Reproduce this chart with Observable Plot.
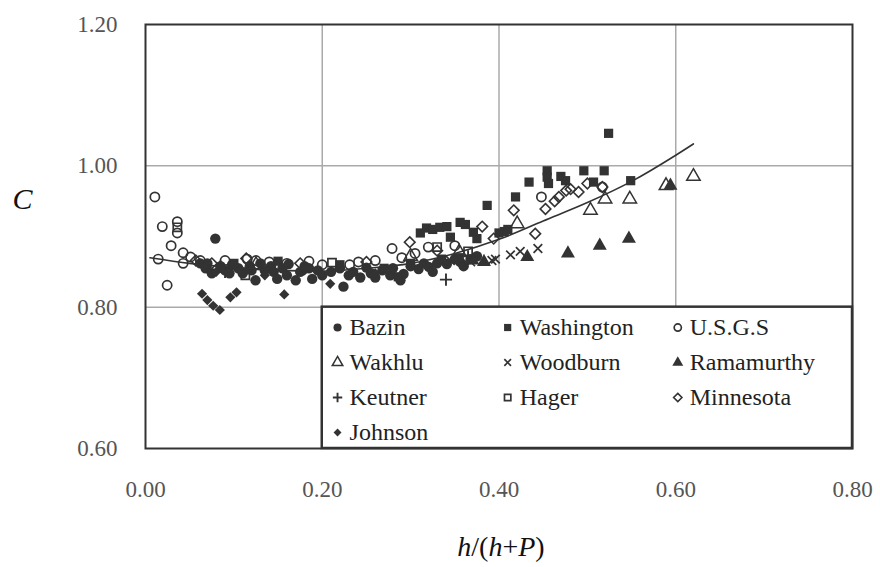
<!DOCTYPE html>
<html><head><meta charset="utf-8">
<script src="https://cdn.jsdelivr.net/npm/d3@7"></script>
<script src="https://cdn.jsdelivr.net/npm/@observablehq/plot@0.6"></script>
<style>
body{margin:0;background:#fff;}
#wrap{position:relative;width:880px;height:567px;overflow:hidden;}
#wrap svg text{font-family:"Liberation Serif","DejaVu Serif",serif;}
#xlabel{position:absolute;left:501px;top:533px;transform:translateX(-50%);font-family:"Liberation Serif","DejaVu Serif",serif;font-size:28px;line-height:1;color:#111;white-space:nowrap;}
#xlabel i{font-style:italic;}
</style></head><body>
<div id="wrap"><div id="xlabel"><i>h</i>/(<i>h</i>+<i>P</i>)</div></div>
<script>
// ---- tick values ----
const xTicks = [0.00, 0.20, 0.40, 0.60, 0.80];
const yTicks = [0.60, 0.80, 1.00, 1.20];

// ---- fitted curve ----
const curveX = [0.005, 0.05, 0.10, 0.15, 0.20, 0.25, 0.30, 0.35, 0.40, 0.45, 0.50, 0.55, 0.60, 0.62];
const curveY = [0.870, 0.862, 0.856, 0.852, 0.851, 0.855, 0.862, 0.876, 0.896, 0.922, 0.948, 0.978, 1.015, 1.031];

// ---- data series ----
const bazin = [[0.062,0.862],[0.068,0.855],[0.07,0.862],[0.075,0.848],[0.079,0.897],[0.085,0.858],[0.09,0.852],[0.095,0.848],[0.098,0.860],[0.105,0.855],[0.11,0.848],[0.118,0.858],[0.12,0.852],[0.1245,0.838],[0.13,0.862],[0.135,0.852],[0.142,0.858],[0.145,0.850],[0.149,0.840],[0.155,0.855],[0.16,0.845],[0.162,0.861],[0.17,0.838],[0.175,0.85],[0.18,0.858],[0.185,0.855],[0.1886,0.84],[0.195,0.852],[0.20,0.845],[0.21,0.850],[0.22,0.855],[0.224,0.829],[0.23,0.845],[0.235,0.85],[0.243,0.842],[0.25,0.856],[0.255,0.848],[0.26,0.842],[0.268,0.852],[0.277,0.845],[0.28,0.855],[0.2885,0.838],[0.292,0.847],[0.30,0.858],[0.309,0.854],[0.315,0.862],[0.3206,0.857],[0.325,0.850],[0.33,0.862],[0.341,0.861],[0.35,0.868],[0.356,0.864],[0.36,0.858],[0.3678,0.868],[0.375,0.872]];
const washington = [[0.10,0.862],[0.15,0.865],[0.22,0.860],[0.27,0.855],[0.286,0.843],[0.30,0.862],[0.311,0.905],[0.318,0.912],[0.325,0.910],[0.333,0.913],[0.335,0.868],[0.341,0.914],[0.345,0.899],[0.355,0.870],[0.356,0.920],[0.362,0.917],[0.371,0.906],[0.375,0.897],[0.3866,0.944],[0.40,0.905],[0.406,0.907],[0.41,0.910],[0.4187,0.956],[0.434,0.977],[0.4545,0.993],[0.4545,0.984],[0.456,0.975],[0.47,0.985],[0.4753,0.979],[0.496,0.993],[0.507,0.977],[0.519,0.993],[0.524,1.046],[0.549,0.979]];
const usgs = [[0.0106,0.956],[0.019,0.914],[0.036,0.921],[0.036,0.905],[0.029,0.887],[0.0144,0.868],[0.0245,0.831],[0.0426,0.877],[0.0426,0.862],[0.051,0.871],[0.062,0.866],[0.09,0.866],[0.115,0.868],[0.125,0.866],[0.14,0.864],[0.16,0.862],[0.185,0.865],[0.20,0.860],[0.231,0.86],[0.241,0.864],[0.26,0.866],[0.279,0.883],[0.29,0.870],[0.305,0.876],[0.32,0.885],[0.35,0.887],[0.448,0.956],[0.517,0.970]];
const wakhlu = [[0.085,0.855],[0.125,0.860],[0.30,0.872],[0.355,0.878],[0.4206,0.918],[0.5035,0.937],[0.52,0.953],[0.548,0.953],[0.589,0.972],[0.62,0.985]];
const woodburn = [[0.345,0.866],[0.36,0.862],[0.368,0.864],[0.392,0.866],[0.396,0.868],[0.413,0.874],[0.424,0.879],[0.444,0.883]];
const ramamurthy = [[0.37,0.866],[0.383,0.864],[0.432,0.871],[0.478,0.876],[0.514,0.887],[0.547,0.897],[0.594,0.972]];
const keutner = [[0.068,0.858],[0.09,0.850],[0.115,0.855],[0.34,0.839],[0.365,0.872]];
const hager = [[0.036,0.913],[0.113,0.845],[0.211,0.863],[0.33,0.885],[0.365,0.879]];
const minnesota = [[0.057,0.866],[0.075,0.862],[0.114,0.869],[0.175,0.862],[0.25,0.864],[0.299,0.892],[0.33,0.880],[0.381,0.914],[0.394,0.897],[0.4167,0.937],[0.441,0.904],[0.4526,0.939],[0.463,0.950],[0.4677,0.956],[0.476,0.965],[0.481,0.967],[0.49,0.963],[0.50,0.975],[0.517,0.970]];
const johnson = [[0.064,0.819],[0.070,0.810],[0.0766,0.802],[0.0841,0.796],[0.096,0.814],[0.103,0.821],[0.157,0.818],[0.209,0.833],[0.08,0.850],[0.135,0.845],[0.18,0.852],[0.26,0.848]];

const seriesNames = ["Bazin","Washington","U.S.G.S","Wakhlu","Woodburn","Ramamurthy","Keutner","Hager","Minnesota","Johnson"];
const seriesData = [bazin, washington, usgs, wakhlu, woodburn, ramamurthy, keutner, hager, minnesota, johnson];

const ink = "#333";
const serif = "'Liberation Serif','DejaVu Serif',serif";
// style per series
const styles = [
  {symbol:"circle", r:5.2, fill:ink, stroke:"none", sw:0},
  {symbol:"square", r:5.2, fill:ink, stroke:"none", sw:0},
  {symbol:"circle", r:4.6, fill:"none", stroke:ink, sw:1.7},
  {symbol:"triangle", r:5, fill:"none", stroke:ink, sw:1.5},
  {symbol:"times", r:4, fill:"none", stroke:ink, sw:1.7},
  {symbol:"triangle", r:5.2, fill:ink, stroke:"none", sw:0},
  {symbol:"plus", r:4, fill:"none", stroke:ink, sw:1.9},
  {symbol:"square", r:4.6, fill:"none", stroke:ink, sw:1.7},
  {symbol:"diamond2", r:4.8, fill:"none", stroke:ink, sw:1.6},
  {symbol:"diamond2", r:4.6, fill:ink, stroke:"none", sw:0}
];

const curve = curveX.map((x,i)=>({x, y: curveY[i]}));

// legend layout (data units)
const legX0 = 0.2173, legColStep = 0.1925, legY0 = 0.7712, legRowStep = 0.0495;

const dotMarks = seriesData.map((data,i)=>{
  const s = styles[i];
  return Plot.dot(data, {x:d=>d[0], y:d=>d[1], symbol:s.symbol, r:s.r, fill:s.fill, stroke:s.stroke, strokeWidth:s.sw});
});

const legendMarks = [];
seriesNames.forEach((name,i)=>{
  const s = styles[i];
  const lx = legX0 + (i%3)*legColStep;
  const ly = legY0 - Math.floor(i/3)*legRowStep;
  legendMarks.push(Plot.dot([name], {x:()=>lx, y:()=>ly, symbol:s.symbol, r:s.r*0.78, fill:s.fill, stroke:s.stroke, strokeWidth:s.sw}));
  legendMarks.push(Plot.text([name], {x:()=>lx, y:()=>ly, text:d=>d, dx:12, textAnchor:"start", fontSize:24, fill:"#222", fontFamily:serif}));
});

const chart = Plot.plot({
  width: 880,
  height: 510,
  marginLeft: 145,
  marginRight: 28,
  marginTop: 24,
  marginBottom: 62,
  style: {fontFamily: serif, background: "white"},
  x: {domain: [xTicks[0], xTicks[xTicks.length-1]]},
  y: {domain: [yTicks[0], yTicks[yTicks.length-1]]},
  marks: [
    Plot.gridX(xTicks.slice(1,-1), {stroke:"#aaa", strokeOpacity:1, strokeWidth:1.5}),
    Plot.gridY(yTicks.slice(1,-1), {stroke:"#aaa", strokeOpacity:1, strokeWidth:1.5}),
    Plot.axisX(xTicks, {tickSize:0, tickPadding:32, tickFormat:d3.format(".2f"), fontSize:23, fill:"#555", label:null, fontFamily:serif}),
    Plot.axisY(yTicks, {tickSize:0, tickPadding:28, tickFormat:d3.format(".2f"), fontSize:23, fill:"#555", label:null, fontFamily:serif}),
    ...dotMarks,
    Plot.line(curve, {x:"x", y:"y", stroke:"#333", strokeWidth:1.6, curve:"monotone-x"}),
    Plot.rect([0], {x1:()=>xTicks[1], x2:()=>xTicks[xTicks.length-1], y1:()=>yTicks[0], y2:()=>yTicks[1], fill:"white", stroke:"#333", strokeWidth:2.5}),
    ...legendMarks,
    Plot.frame({stroke:"#333", strokeWidth:2}),
    Plot.text(["C"], {frameAnchor:"left", dx:-123, dy:-37, text:d=>d, textAnchor:"middle", fontSize:30, fontStyle:"italic", fill:"#111", fontFamily:serif})
  ]
});
document.getElementById("wrap").prepend(chart);
</script>
</body></html>
